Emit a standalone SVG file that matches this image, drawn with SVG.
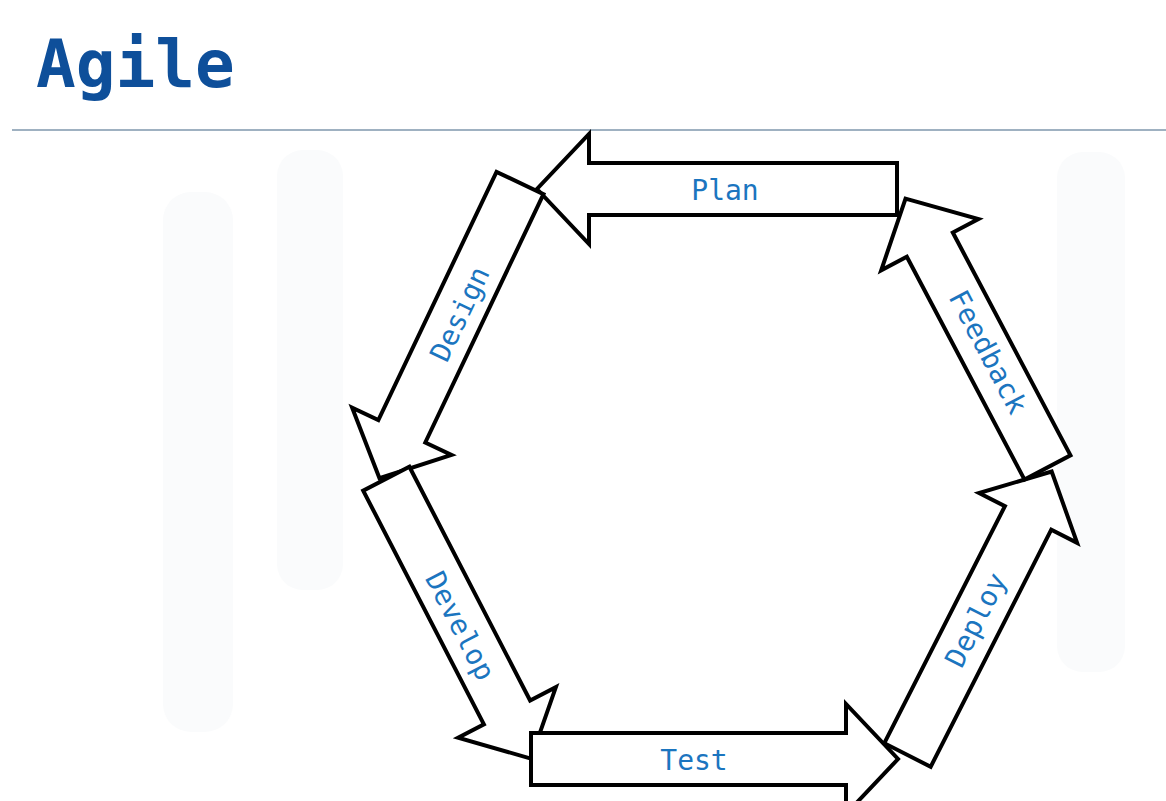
<svg xmlns="http://www.w3.org/2000/svg" width="1166" height="801" viewBox="0 0 1166 801">
<style>
.arrow{fill:#ffffff;stroke:#000000;stroke-width:4;stroke-linejoin:miter}
.lbl{font-family:"DejaVu Sans Mono","Liberation Mono",monospace;font-size:28px;fill:#1b75bf;text-anchor:middle;dominant-baseline:central}
.title{font-family:"DejaVu Sans Mono","Liberation Mono",monospace;font-size:66px;font-weight:bold;fill:#0e4f9a}
.wm{fill:#fafbfc}
</style>
<rect width="1166" height="801" fill="#ffffff"/>
<g id="watermark">
<rect class="wm" x="163" y="192" width="70" height="540" rx="28"/>
<rect class="wm" x="277" y="150" width="66" height="440" rx="26"/>
<rect class="wm" x="1057" y="152" width="68" height="520" rx="26"/>
</g>
<text class="title" x="36" y="87">Agile</text>
<line x1="12" y1="130" x2="1166" y2="130" stroke="#9fb1c1" stroke-width="2"/>
<g id="connectors"></g>
<g id="plan">
<polygon class="arrow" transform="translate(897,189) rotate(180)" points="0,-26 308,-26 308,-55 360,0 308,55 308,26 0,26"/>
<text class="lbl" x="725" y="190">Plan</text>
</g>
<g id="design">
<polygon class="arrow" transform="translate(520,183) rotate(115.45)" points="0,-26 275,-26 275,-55 327,0 275,55 275,26 0,26"/>
<text class="lbl" transform="translate(460,314) rotate(-64.55)">Design</text>
</g>
<g id="develop">
<polygon class="arrow" transform="translate(386.3,478.7) rotate(62.68)" points="0,-26 263,-26 263,-55 315,0 263,55 263,26 0,26"/>
<text class="lbl" transform="translate(460,626) rotate(62.68)">Develop</text>
</g>
<g id="test">
<polygon class="arrow" transform="translate(531,759)" points="0,-26 315,-26 315,-55 367,0 315,55 315,26 0,26"/>
<text class="lbl" x="694" y="760">Test</text>
</g>
<g id="deploy">
<polygon class="arrow" transform="translate(907.5,755) rotate(-63.04)" points="0,-26 266,-26 266,-55 318,0 266,55 266,26 0,26"/>
<text class="lbl" transform="translate(976,620) rotate(-63.04)">Deploy</text>
</g>
<g id="feedback">
<polygon class="arrow" transform="translate(1047.5,467.5) rotate(-117.84)" points="0,-26 252,-26 252,-55 304,0 252,55 252,26 0,26"/>
<text class="lbl" transform="translate(988,352) rotate(62.16)">Feedback</text>
</g>
</svg>
